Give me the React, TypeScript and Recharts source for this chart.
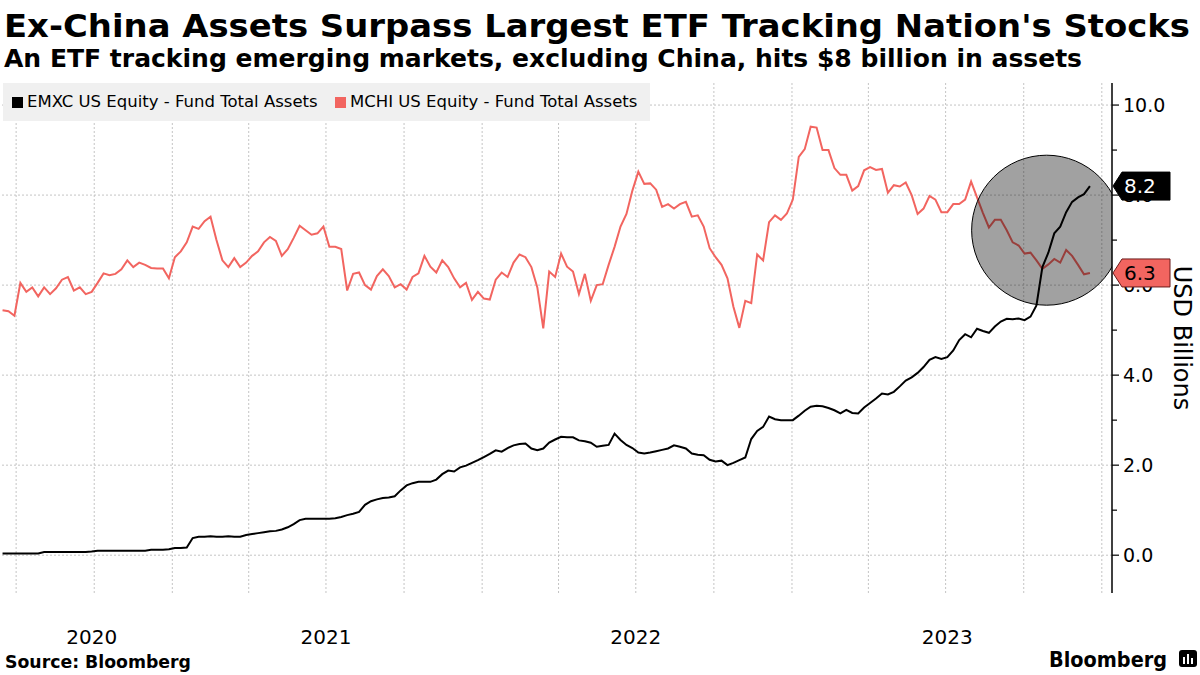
import React from 'react';
import { LineChart, Line, XAxis, YAxis, ReferenceLine, ReferenceDot, Legend } from 'recharts';

// weekly samples, first one on 2020-06-15
const START = Date.UTC(2020, 5, 15);
const WEEK = 7 * 24 * 3600 * 1000;
const X_MIN = Date.UTC(2020, 5, 12);
const X_MAX = Date.UTC(2024, 0, 13);

// USD billions
const emxc = [
  0.04, 0.04, 0.04, 0.04, 0.04, 0.04, 0.04, 0.07, 0.07, 0.07,
  0.07, 0.07, 0.07, 0.07, 0.07, 0.08, 0.10, 0.10, 0.10, 0.10,
  0.10, 0.10, 0.10, 0.10, 0.10, 0.12, 0.12, 0.12, 0.13, 0.16,
  0.16, 0.17, 0.38, 0.41, 0.41, 0.42, 0.41, 0.41, 0.42, 0.41,
  0.41, 0.45, 0.47, 0.49, 0.51, 0.53, 0.54, 0.57, 0.62, 0.69,
  0.78, 0.81, 0.81, 0.81, 0.81, 0.81, 0.82, 0.85, 0.89, 0.92,
  0.96, 1.12, 1.20, 1.24, 1.27, 1.28, 1.31, 1.44, 1.55, 1.60,
  1.63, 1.63, 1.63, 1.68, 1.80, 1.88, 1.86, 1.95, 1.99, 2.05,
  2.11, 2.18, 2.25, 2.33, 2.30, 2.38, 2.44, 2.47, 2.48, 2.37,
  2.33, 2.37, 2.50, 2.57, 2.63, 2.62, 2.62, 2.55, 2.53, 2.50,
  2.41, 2.43, 2.45, 2.70, 2.56, 2.45, 2.38, 2.28, 2.26, 2.28,
  2.31, 2.34, 2.37, 2.44, 2.41, 2.37, 2.26, 2.23, 2.22, 2.12,
  2.08, 2.10, 2.00, 2.05, 2.11, 2.17, 2.58, 2.76, 2.85, 3.08,
  3.02, 3.00, 3.00, 3.00, 3.10, 3.21, 3.30, 3.32, 3.31, 3.27,
  3.22, 3.15, 3.23, 3.16, 3.15, 3.28, 3.38, 3.48, 3.59, 3.57,
  3.63, 3.75, 3.88, 3.95, 4.05, 4.18, 4.34, 4.40, 4.36, 4.40,
  4.55, 4.78, 4.91, 4.84, 5.03, 4.98, 4.94, 5.08, 5.19, 5.25,
  5.24, 5.26, 5.22, 5.30, 5.55, 6.40, 6.72, 7.15, 7.30, 7.62,
  7.85, 7.95, 8.02, 8.20,
];

const mchi = [
  5.44, 5.42, 5.32, 6.05, 5.85, 5.95, 5.75, 5.95, 5.80, 5.93,
  6.12, 6.18, 5.88, 5.95, 5.80, 5.85, 6.05, 6.26, 6.22, 6.25,
  6.35, 6.55, 6.40, 6.50, 6.45, 6.38, 6.37, 6.37, 6.15, 6.62,
  6.75, 6.95, 7.30, 7.25, 7.42, 7.52, 7.00, 6.55, 6.40, 6.60,
  6.40, 6.50, 6.65, 6.75, 6.95, 7.07, 6.98, 6.65, 6.80, 7.05,
  7.32, 7.22, 7.12, 7.15, 7.30, 6.85, 6.85, 6.80, 5.88, 6.25,
  6.28, 6.00, 5.90, 6.20, 6.35, 6.20, 5.95, 6.02, 5.90, 6.18,
  6.26, 6.65, 6.41, 6.28, 6.55, 6.40, 6.15, 5.95, 6.05, 5.67,
  5.85, 5.70, 5.68, 6.12, 6.28, 6.18, 6.50, 6.68, 6.62, 6.40,
  5.95, 5.04, 6.30, 6.18, 6.70, 6.41, 6.30, 5.80, 6.25, 5.65,
  6.00, 6.02, 6.45, 6.85, 7.30, 7.58, 8.10, 8.52, 8.25, 8.26,
  8.12, 7.74, 7.80, 7.70, 7.80, 7.85, 7.52, 7.55, 7.30, 6.82,
  6.62, 6.45, 6.15, 5.52, 5.05, 5.65, 5.60, 6.68, 6.55, 7.40,
  7.55, 7.45, 7.59, 7.90, 8.85, 9.02, 9.52, 9.50, 9.00, 9.00,
  8.60, 8.45, 8.45, 8.10, 8.20, 8.55, 8.62, 8.56, 8.58, 8.05,
  8.22, 8.19, 8.28, 8.00, 7.58, 7.70, 7.98, 7.90, 7.62, 7.62,
  7.80, 7.80, 7.90, 8.30, 7.95, 7.60, 7.28, 7.45, 7.45, 7.22,
  6.95, 6.88, 6.70, 6.72, 6.55, 6.36, 6.46, 6.58, 6.50, 6.78,
  6.65, 6.45, 6.24, 6.27,
];

const quarterStarts = [
  '2020-07-01', '2020-10-01', '2021-01-01', '2021-04-01', '2021-07-01',
  '2021-10-01', '2022-01-01', '2022-04-01', '2022-07-01', '2022-10-01',
  '2023-01-01', '2023-04-01', '2023-07-01', '2023-10-01', '2024-01-01',
];
const yearTicks = ['2020-09-28', '2021-07-01', '2022-07-01', '2023-07-03'];
const yTicks = [0, 1, 2, 3, 4, 5, 6, 7, 8, 9, 10];
const gridY = [0, 2, 4, 6, 8, 10];

const RED = '#f26560';
const FONT = '"DejaVu Sans", Verdana, sans-serif';
const GRID = '#c4c4c4';

const data = emxc.map((v, i) => ({ t: START + i * WEEK, emxc: v, mchi: mchi[i] }));
const lastEmxc = emxc[emxc.length - 1];
const lastMchi = mchi[mchi.length - 1];

// last-value tags are drawn as extra y ticks, after the regular ones, so they sit on top
const tags = [
  { value: lastMchi, fill: RED, color: '#000', stroke: '#6a1a1a' },
  { value: lastEmxc, fill: '#000', color: '#fff', stroke: '#000' },
];

const ValueTag = ({ x, y, text, fill, color, stroke }: any) => (
  <g>
    <polygon
      points={`${x + 1},${y} ${x + 10},${y - 14} ${x + 58},${y - 14} ${x + 58},${y + 14} ${x + 10},${y + 14}`}
      fill={fill}
      stroke={stroke}
      strokeWidth={1}
    />
    <text x={x + 12} y={y} dy="0.36em" fontSize={20} fontFamily={FONT} fill={color}>
      {text}
    </text>
  </g>
);

const YTick = ({ x, y, payload, index }: any) => {
  if (index >= yTicks.length) {
    const tag = tags[index - yTicks.length];
    return <ValueTag x={x} y={y} text={tag.value.toFixed(1)} fill={tag.fill} color={tag.color} stroke={tag.stroke} />;
  }
  const major = payload.value % 2 === 0;
  return (
    <g>
      <line x1={x} x2={x + (major ? 7 : 5)} y1={y} y2={y} stroke="#000" strokeWidth={1.2} />
      {major && (
        <text x={x + 11} y={y} dy="0.36em" fontSize={19} fontFamily={FONT} fill="#000">
          {payload.value.toFixed(1)}
        </text>
      )}
    </g>
  );
};

const YearTick = ({ x, y, payload }: any) => (
  <text x={x} y={y + 51} textAnchor="middle" fontSize={20} fontFamily={FONT} fill="#000">
    {new Date(payload.value).getUTCFullYear()}
  </text>
);

const LegendBox = () => (
  <div style={{ position: 'relative', width: 647, height: 38, background: '#f0f0f0', fontFamily: FONT, fontSize: 16.5, color: '#000' }}>
    <div style={{ position: 'absolute', left: 9, top: 14, width: 11, height: 11, background: '#000' }} />
    <div style={{ position: 'absolute', left: 24, top: 9, whiteSpace: 'nowrap' }}>EMXC US Equity - Fund Total Assets</div>
    <div style={{ position: 'absolute', left: 332, top: 14, width: 11, height: 11, background: RED }} />
    <div style={{ position: 'absolute', left: 347, top: 9, whiteSpace: 'nowrap' }}>MCHI US Equity - Fund Total Assets</div>
  </div>
);

export default function App() {
  return (
    <div style={{ position: 'absolute', left: 0, top: 0, width: 1200, height: 675, background: '#fff', overflow: 'hidden' }}>
      <LineChart width={1200} height={675} data={data} margin={{ top: 83, right: 0, bottom: 42, left: 0 }}>
        {quarterStarts.map((q) => (
          <ReferenceLine key={q} x={Date.parse(q)} stroke={GRID} strokeDasharray="2 2" />
        ))}
        {gridY.map((g) => (
          <ReferenceLine key={g} y={g} stroke={GRID} strokeDasharray="2 2" />
        ))}
        <XAxis
          dataKey="t"
          type="number"
          domain={[X_MIN, X_MAX]}
          allowDataOverflow
          ticks={yearTicks.map((d) => Date.parse(d))}
          interval={0}
          axisLine={false}
          tickLine={false}
          tickSize={0}
          tickMargin={0}
          height={40}
          tick={(p: any) => <YearTick {...p} />}
        />
        <YAxis
          orientation="right"
          type="number"
          domain={[-0.84, 10.49]}
          allowDataOverflow
          ticks={[...yTicks, ...tags.map((t) => t.value)]}
          interval={0}
          width={88}
          axisLine={{ stroke: '#000', strokeWidth: 1.5 }}
          tickLine={false}
          tickSize={0}
          tickMargin={0}
          tick={(p: any) => <YTick {...p} />}
          label={(p: any) => {
            const vb = p.viewBox;
            const cx = vb.x + 71;
            const cy = vb.y + vb.height / 2;
            return (
              <text x={cx} y={cy} transform={`rotate(90 ${cx} ${cy})`} textAnchor="middle" dy="0.36em" fontSize={24} fontFamily={FONT} fill="#000">
                USD Billions
              </text>
            );
          }}
        />
        <Legend
          layout="horizontal"
          verticalAlign="middle"
          align="center"
          wrapperStyle={{ position: 'absolute', left: 3, top: 83, width: 647, height: 38 }}
          content={() => <LegendBox />}
        />
        <Line type="linear" dataKey="mchi" stroke={RED} strokeWidth={2} dot={false} isAnimationActive={false} />
        <Line type="linear" dataKey="emxc" stroke="#000" strokeWidth={2} dot={false} isAnimationActive={false} />
        <ReferenceDot
          x={Date.parse('2023-10-28')}
          y={7.22}
          r={75}
          fill="#000"
          fillOpacity={0.37}
          stroke="#000"
          strokeWidth={1}
          ifOverflow="hidden"
        />
      </LineChart>
      <svg width={1200} height={675} style={{ position: 'absolute', left: 0, top: 0, pointerEvents: 'none' }}>
        <text x={4} y={37} fontFamily={FONT} fontWeight="bold" fontSize={32} textLength={1186} lengthAdjust="spacingAndGlyphs" fill="#000">
          Ex-China Assets Surpass Largest ETF Tracking Nation's Stocks
        </text>
        <text x={4} y={67} fontFamily={FONT} fontWeight="bold" fontSize={24} textLength={1078} lengthAdjust="spacingAndGlyphs" fill="#000">
          An ETF tracking emerging markets, excluding China, hits $8 billion in assets
        </text>
        <text x={5} y={668} fontFamily={FONT} fontWeight="bold" fontSize={17} textLength={186} lengthAdjust="spacingAndGlyphs" fill="#000">
          Source: Bloomberg
        </text>
        <text x={1049} y={667} fontFamily={FONT} fontWeight="bold" fontSize={22} textLength={118} lengthAdjust="spacingAndGlyphs" fill="#000">
          Bloomberg
        </text>
        <rect x={1179} y={650} width={18} height={17} rx={3} fill="#000" />
        <rect x={1183} y={657} width={2} height={7} fill="#fff" />
        <rect x={1187} y={654} width={2} height={10} fill="#fff" />
        <rect x={1191} y={658} width={2} height={6} fill="#fff" />
      </svg>
    </div>
  );
}
